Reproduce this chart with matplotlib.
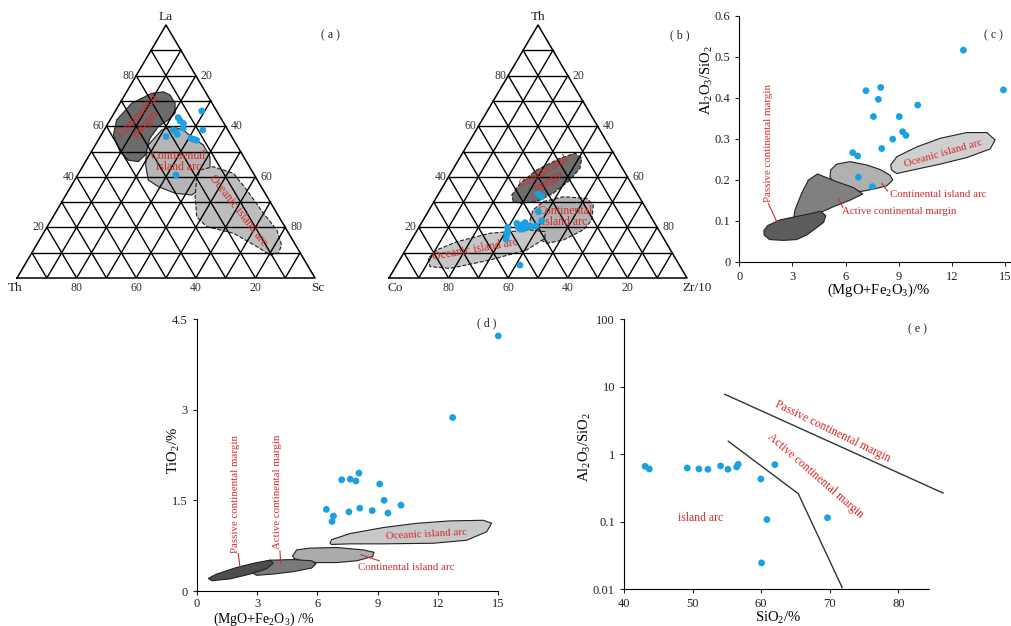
"""
Tectonic setting discrimination diagrams (a)-(e)
"""
import numpy as np
import matplotlib
matplotlib.use('Agg')
import matplotlib.pyplot as plt
from matplotlib.patches import Polygon

plt.rcParams['font.family'] = ['Liberation Serif', 'DejaVu Serif']
plt.rcParams['mathtext.fontset'] = 'custom'
plt.rcParams['mathtext.rm'] = 'Liberation Serif'
plt.rcParams['mathtext.it'] = 'Liberation Serif:italic'

BLUE = '#1ba1e2'
RED = '#d42a2a'

# ---------------- (a) La-Th-Sc ----------------
a_la = [66.0, 63.4, 62.1, 61.1, 59.2, 58.5, 58.5, 57.8, 56.8, 55.9, 55.2, 54.8, 54.5, 40.7]
a_sc = [29.0, 22.4, 23.7, 25.3, 26.2, 33.1, 23.2, 24.5, 25.4, 22.1, 30.7, 32.0, 33.0, 33.0]
# fields as (La, Sc) percent
a_cont_margin = [(56.5, 4.1), (62.5, 2.2), (69.1, 4.0), (73.0, 8.7), (73.6, 12.3), (72.3, 15.2),
                 (69.1, 18.5), (65.1, 20.5), (62.5, 19.5), (59.8, 17.5), (55.2, 17.0), (48.6, 18.7),
                 (46.0, 17.7), (46.6, 14.0), (49.9, 9.6)]
a_cont_arc = [(51.9, 17.6), (44.7, 20.8), (38.7, 24.7), (36.1, 29.4), (33.5, 36.3), (32.8, 42.2),
              (35.5, 44.3), (41.4, 44.1), (47.9, 40.8), (52.6, 36.2), (55.2, 31.6), (58.5, 26.6),
              (59.8, 22.0), (58.5, 19.3)]
a_ocean_arc = [(42.7, 40.1), (44.0, 43.9), (41.4, 51.9), (34.8, 59.7), (25.6, 69.9), (19.0, 77.7),
               (13.0, 82.3), (9.8, 82.8), (9.1, 80.4), (12.4, 74.3), (17.7, 63.8), (20.3, 53.5),
               (24.2, 48.2), (32.1, 43.7), (38.7, 40.9)]

# ---------------- (b) Th-Co-Zr/10 ----------------
b_th = [33.2, 32.1, 26.2, 22.6, 20.6, 21.6, 20.0, 21.0, 21.9, 20.0, 20.6, 19.3, 19.3, 20.0, 18.3, 17.0, 15.4, 5.1]
b_zr = [33.5, 35.2, 37.0, 39.9, 39.1, 32.1, 33.4, 34.0, 34.7, 36.2, 37.0, 35.4, 34.3, 29.8, 30.6, 31.0, 31.6, 41.4]
b_cont_margin = [(30.2, 26.6), (32.8, 24.8), (37.4, 25.3), (42.7, 28.2), (47.3, 33.7), (49.3, 37.8),
                 (47.3, 41.0), (43.4, 42.4), (38.7, 41.4), (33.5, 38.4), (30.2, 34.5), (29.5, 29.2)]
b_cont_arc = [(22.9, 35.9), (26.9, 34.9), (30.2, 36.7), (32.1, 42.4), (31.5, 50.6), (28.9, 54.1),
              (22.9, 56.6), (19.0, 55.7), (15.0, 51.0), (13.7, 46.1), (16.3, 40.8), (19.6, 36.9)]
b_ocean_arc = [(7.8, 9.3), (4.5, 11.5), (3.8, 18.6), (7.1, 30.3), (11.1, 40.7), (15.7, 44.5),
               (18.3, 43.2), (19.0, 37.8), (17.7, 25.1), (14.3, 15.5), (11.1, 10.5)]

# ---------------- (c) Al2O3/SiO2 vs MgO+Fe2O3 ----------------
c_x = [12.65, 14.91, 7.15, 7.98, 7.85, 10.07, 7.57, 9.03, 9.22, 9.41, 8.66, 8.04, 6.40, 6.68, 6.72, 7.51]
c_y = [0.516, 0.419, 0.417, 0.425, 0.396, 0.382, 0.354, 0.354, 0.317, 0.308, 0.299, 0.276, 0.266, 0.258, 0.206, 0.183]
c_passive_x = [1.39, 1.6, 2.3, 3.2, 4.0, 4.6, 4.88, 4.76, 4.27, 3.8, 3.24, 2.49, 1.7, 1.4]
c_passive_y = [0.076, 0.088, 0.102, 0.110, 0.117, 0.123, 0.112, 0.096, 0.080, 0.065, 0.054, 0.052, 0.054, 0.065]
c_active_x = [3.05, 3.14, 3.52, 3.90, 4.41, 5.50, 6.44, 6.97, 6.25, 5.31, 4.37, 3.33]
c_active_y = [0.102, 0.126, 0.167, 0.199, 0.214, 0.195, 0.181, 0.165, 0.150, 0.134, 0.116, 0.099]
c_contarc_x = [5.12, 5.16, 5.50, 6.25, 7.19, 7.94, 8.51, 8.66, 8.32, 7.57, 6.82, 6.06, 5.31]
c_contarc_y = [0.206, 0.224, 0.238, 0.244, 0.236, 0.225, 0.211, 0.199, 0.185, 0.177, 0.171, 0.183, 0.195]
c_ocean_x = [8.55, 8.89, 10.02, 11.34, 12.84, 13.97, 14.44, 14.16, 12.84, 11.34, 9.83, 8.89, 8.59]
c_ocean_y = [0.236, 0.256, 0.280, 0.301, 0.315, 0.315, 0.297, 0.275, 0.254, 0.238, 0.224, 0.215, 0.224]

# ---------------- (d) TiO2 vs MgO+Fe2O3 ----------------
d_x = [15.0, 12.73, 7.21, 7.64, 7.92, 8.07, 9.10, 9.32, 6.45, 7.57, 8.11, 8.73, 9.51, 10.16, 6.80, 6.73]
d_y = [4.22, 2.87, 1.84, 1.85, 1.82, 1.95, 1.77, 1.50, 1.35, 1.31, 1.37, 1.33, 1.29, 1.42, 1.24, 1.15]
d_passive_x = [0.58, 0.99, 1.99, 2.98, 3.65, 3.81, 3.48, 2.65, 1.66, 0.75]
d_passive_y = [0.21, 0.28, 0.39, 0.47, 0.51, 0.46, 0.37, 0.28, 0.20, 0.17]
d_active_x = [2.65, 2.82, 3.65, 4.81, 5.72, 5.93, 5.72, 4.81, 3.81, 2.98]
d_active_y = [0.32, 0.43, 0.51, 0.52, 0.50, 0.45, 0.38, 0.32, 0.28, 0.26]
d_contarc_x = [4.77, 4.97, 5.64, 6.96, 8.29, 8.82, 8.75, 7.96, 6.96, 5.97, 5.22, 4.84]
d_contarc_y = [0.58, 0.68, 0.71, 0.72, 0.68, 0.64, 0.57, 0.50, 0.47, 0.47, 0.50, 0.54]
d_ocean_x = [6.63, 6.71, 7.62, 9.28, 10.94, 12.60, 14.25, 14.67, 14.42, 13.43, 11.77, 9.28, 7.62, 6.71]
d_ocean_y = [0.79, 0.85, 0.95, 1.05, 1.12, 1.16, 1.17, 1.12, 0.98, 0.84, 0.79, 0.78, 0.78, 0.77]

# ---------------- (e) Al2O3/SiO2 vs SiO2 ----------------
e_x = [43.06, 43.69, 49.22, 50.92, 52.23, 54.08, 55.15, 56.41, 56.65, 59.95, 61.99, 60.83, 69.66, 60.05]
e_y = [0.664, 0.607, 0.627, 0.607, 0.600, 0.672, 0.600, 0.649, 0.711, 0.431, 0.703, 0.108, 0.115, 0.0246]
e_line1_x = [54.7, 86.5]
e_line1_y = [7.74, 0.267]
e_line2_x = [55.2, 65.4, 71.8]
e_line2_y = [1.56, 0.261, 0.0106]

W, HP = 1011, 626
SQ = np.sqrt(3) / 2

fig = plt.figure(figsize=(W / 100, HP / 100), dpi=100)


def px_rect(left, top, right, bottom):
    return [left / W, 1 - bottom / HP, (right - left) / W, (bottom - top) / HP]


def tern(top, right):
    top = np.asarray(top, float) / 100
    right = np.asarray(right, float) / 100
    return right + top / 2, top * SQ


def tern_poly(pts):
    arr = np.array(pts)
    x, y = tern(arr[:, 0], arr[:, 1])
    return np.column_stack([x, y])


def ternary(rect, corners, corner_off):
    ax = fig.add_axes(rect)
    ax.set_xlim(0, 1)
    ax.set_ylim(0, SQ)
    ax.axis('off')
    for k in range(1, 10):
        f = k / 10
        kw = dict(color='k', lw=1.0, zorder=3)
        ax.plot([f / 2, 1 - f / 2], [f * SQ, f * SQ], **kw)
        ax.plot([f, f + (1 - f) / 2], [0, (1 - f) * SQ], **kw)
        ax.plot([1 - f, (1 - f) / 2], [0, (1 - f) * SQ], **kw)
    ax.plot([0, 1, 0.5, 0], [0, 0, SQ, 0], color='k', lw=1.1, zorder=3, clip_on=False)
    for t in (20, 40, 60, 80):
        x, y = tern(t, 0)
        ax.annotate(str(t), (x, y), xytext=(-2, 0), textcoords='offset pixels',
                    ha='right', va='center', fontsize=8.5, color='#333333')
        x, y = tern(t, 100 - t)
        ax.annotate(str(100 - t), (x, y), xytext=(5, 0), textcoords='offset pixels',
                    ha='left', va='center', fontsize=8.5, color='#333333')
        x, y = tern(0, t)
        ax.annotate(str(100 - t), (x, y), xytext=(0, -10), textcoords='offset pixels',
                    ha='center', va='center', fontsize=8.5, color='#333333')
    pos = [(0.5, SQ), (0, 0), (1, 0)]
    for name, p, off in zip(corners, pos, corner_off):
        ax.annotate(name, p, xytext=off, textcoords='offset pixels',
                    ha='center', va='center', fontsize=9.5, color='#222222',
                    annotation_clip=False)
    return ax


def field(ax, pts, color, ls='-', z=1):
    ax.add_patch(Polygon(pts, closed=True, facecolor=color, edgecolor='#222222',
                         lw=0.8, ls=ls, joinstyle='round', zorder=z))


# ---- (a)
ax_a = ternary(px_rect(17, 25, 315, 278), ['La', 'Th', 'Sc'], [(0, 8), (-2, -10), (3, -10)])
field(ax_a, tern_poly(a_cont_arc), '#b5b5b5')
field(ax_a, tern_poly(a_ocean_arc), '#bdbdbd', ls='--')
field(ax_a, tern_poly(a_cont_margin), '#6b6b6b', z=2)
xa, ya = tern(a_la, a_sc)
ax_a.scatter(xa, ya, s=24, color=BLUE, edgecolors='none', zorder=6)
x, y = tern(62.5, 10.6)
ax_a.text(x, y, 'Continental\nmargin', rotation=47, color=RED, fontsize=8.5,
          ha='center', va='center', zorder=5, linespacing=0.9)
x, y = tern(46.0, 31.1)
ax_a.text(x, y, 'Continental\nisland arc', color=RED, fontsize=8.5,
          ha='center', va='center', zorder=5, linespacing=0.9)
x, y = tern(26.9, 60.7)
ax_a.text(x, y, 'Oceanic island arc', rotation=-52, color=RED, fontsize=8.5,
          ha='center', va='center', zorder=5)

# ---- (b)
ax_b = ternary(px_rect(389, 25, 687, 278), ['Th', 'Co', 'Zr/10'], [(0, 8), (6, -10), (10, -10)])
field(ax_b, tern_poly(b_cont_margin), '#6e6e6e', ls='--')
field(ax_b, tern_poly(b_cont_arc), '#b3b3b3', ls='--')
field(ax_b, tern_poly(b_ocean_arc), '#c6c6c6', ls='--')
xb, yb = tern(b_th, b_zr)
ax_b.scatter(xb, yb, s=24, color=BLUE, edgecolors='none', zorder=6)
x, y = tern(40.0, 32.9)
ax_b.text(x, y, 'Continental\nmargin', rotation=30, color=RED, fontsize=8.5,
          ha='center', va='center', zorder=5, linespacing=0.9)
x, y = tern(24.2, 47.0)
ax_b.text(x, y, 'Continental\nisland arc', color=RED, fontsize=8.5,
          ha='center', va='center', zorder=5, linespacing=0.9)
x, y = tern(11.1, 23.3)
ax_b.text(x, y, 'Oceanic island arc', rotation=10, color=RED, fontsize=8.5,
          ha='center', va='center', zorder=5)


def style_axes(ax):
    for s in ('top', 'right'):
        ax.spines[s].set_visible(False)
    for s in ('left', 'bottom'):
        ax.spines[s].set_linewidth(0.8)
    ax.tick_params(direction='out', length=3, width=0.8, labelsize=9, colors='#222222')
    ax.minorticks_off()


# ---- (c)
ax_c = fig.add_axes(px_rect(739.3, 15.7, 1010, 261.7))
ax_c.set_xlim(0, 15.28)
ax_c.set_ylim(0, 0.6)
field(ax_c, np.column_stack([c_contarc_x, c_contarc_y]), '#b0b0b0', z=1)
field(ax_c, np.column_stack([c_active_x, c_active_y]), '#808080', z=2)
field(ax_c, np.column_stack([c_passive_x, c_passive_y]), '#5c5c5c', z=3)
field(ax_c, np.column_stack([c_ocean_x, c_ocean_y]), '#cfcfcf', z=1)
ax_c.scatter(c_x, c_y, s=24, color=BLUE, edgecolors='none', zorder=6, clip_on=False)
ax_c.text(1.64, 0.289, 'Passive continental margin', rotation=90, color=RED, fontsize=7.8,
          ha='center', va='center')
ax_c.plot([1.64, 2.11], [0.142, 0.098], color=RED, lw=0.8, zorder=5)
ax_c.text(5.78, 0.122, 'Active continental margin', color=RED, fontsize=7.8, ha='left', va='center')
ax_c.plot([5.59, 5.84], [0.154, 0.133], color=RED, lw=0.8, zorder=5)
ax_c.text(8.51, 0.165, 'Continental island arc', color=RED, fontsize=7.8, ha='left', va='center')
ax_c.plot([8.04, 8.36], [0.191, 0.173], color=RED, lw=0.8, zorder=5)
ax_c.text(11.49, 0.263, 'Oceanic island arc', rotation=16, color=RED, fontsize=7.8,
          ha='center', va='center', zorder=5)
ax_c.set_xticks([0, 3, 6, 9, 12, 15])
ax_c.set_yticks([0, 0.1, 0.2, 0.3, 0.4, 0.5, 0.6])
ax_c.set_yticklabels(['0', '0.1', '0.2', '0.3', '0.4', '0.5', '0.6'])
style_axes(ax_c)
ax_c.set_ylabel(r'Al$_2$O$_3$/SiO$_2$', fontsize=10.5)
ax_c.yaxis.set_label_coords(-0.09, 0.74)
ax_c.set_xlabel(r'(MgO+Fe$_2$O$_3$)/%', fontsize=10.5)
ax_c.xaxis.set_label_coords(0.513, -0.083)

# ---- (d)
ax_d = fig.add_axes(px_rect(196.7, 319, 498.3, 591))
ax_d.set_xlim(0, 15)
ax_d.set_ylim(0, 4.5)
field(ax_d, np.column_stack([d_ocean_x, d_ocean_y]), '#c8c8c8', z=1)
field(ax_d, np.column_stack([d_contarc_x, d_contarc_y]), '#ababab', z=1)
field(ax_d, np.column_stack([d_active_x, d_active_y]), '#7a7a7a', z=2)
field(ax_d, np.column_stack([d_passive_x, d_passive_y]), '#4d4d4d', z=3)
ax_d.scatter(d_x, d_y, s=24, color=BLUE, edgecolors='none', zorder=6, clip_on=False)
ax_d.text(1.91, 1.60, 'Passive continental margin', rotation=90, color=RED, fontsize=7.8,
          ha='center', va='center')
ax_d.plot([2.07, 2.15], [0.62, 0.40], color=RED, lw=0.8, zorder=5)
ax_d.text(4.03, 1.64, 'Active continental margin', rotation=90, color=RED, fontsize=7.8,
          ha='center', va='center')
ax_d.plot([4.14, 4.18], [0.66, 0.46], color=RED, lw=0.8, zorder=5)
ax_d.text(11.40, 0.93, 'Oceanic island arc', rotation=3, color=RED, fontsize=7.8,
          ha='center', va='center', zorder=5)
ax_d.text(8.04, 0.39, 'Continental island arc', color=RED, fontsize=7.8, ha='left', va='center')
ax_d.plot([8.16, 9.08], [0.60, 0.50], color=RED, lw=0.8, zorder=5)
ax_d.set_xticks([0, 3, 6, 9, 12, 15])
ax_d.set_yticks([0, 1.5, 3, 4.5])
ax_d.set_yticklabels(['0', '1.5', '3', '4.5'])
style_axes(ax_d)
ax_d.tick_params(axis='x', pad=2)
ax_d.set_ylabel(r'TiO$_2$/%', fontsize=10.5)
ax_d.yaxis.set_label_coords(-0.05, 0.518)
ax_d.set_xlabel(r'(MgO+Fe$_2$O$_3$) /%', fontsize=10)
ax_d.xaxis.set_label_coords(0.223, -0.072)

# ---- (e)
ax_e = fig.add_axes(px_rect(624, 319.3, 929.3, 589.3))
ax_e.set_yscale('log')
ax_e.set_xlim(40, 84.5)
ax_e.set_ylim(0.01, 100)
ax_e.plot(e_line1_x, e_line1_y, color='#333333', lw=1.0, clip_on=False)
ax_e.plot(e_line2_x, e_line2_y, color='#333333', lw=1.0, clip_on=False)
ax_e.scatter(e_x, e_y, s=24, color=BLUE, edgecolors='none', zorder=6)
ax_e.text(70.34, 2.22, 'Passive continental margin', rotation=-26, color=RED, fontsize=8.5,
          ha='center', va='center')
ax_e.text(67.86, 0.478, 'Active continental margin', rotation=-41, color=RED, fontsize=8.5,
          ha='center', va='center')
ax_e.text(51.17, 0.115, 'island arc', color=RED, fontsize=8.5, ha='center', va='center')
ax_e.set_xticks([40, 50, 60, 70, 80])
ax_e.set_yticks([0.01, 0.1, 1, 10, 100])
ax_e.set_yticklabels(['0.01', '0.1', '1', '10', '100'])
style_axes(ax_e)
ax_e.set_ylabel(r'Al$_2$O$_3$/SiO$_2$', fontsize=10.5)
ax_e.yaxis.set_label_coords(-0.1, 0.527)
ax_e.set_xlabel(r'SiO$_2$/%', fontsize=10.5)
ax_e.xaxis.set_label_coords(0.505, -0.075)

# panel letters
for lab, (px, py) in zip(['( a )', '( b )', '( c )', '( d )', '( e )'],
                         [(330, 35), (680, 35), (993, 35), (487, 323), (917, 329)]):
    fig.text(px / W, 1 - py / HP, lab, fontsize=8.5, ha='center', va='center', color='#222222')

fig.savefig('out.png', dpi=100)
